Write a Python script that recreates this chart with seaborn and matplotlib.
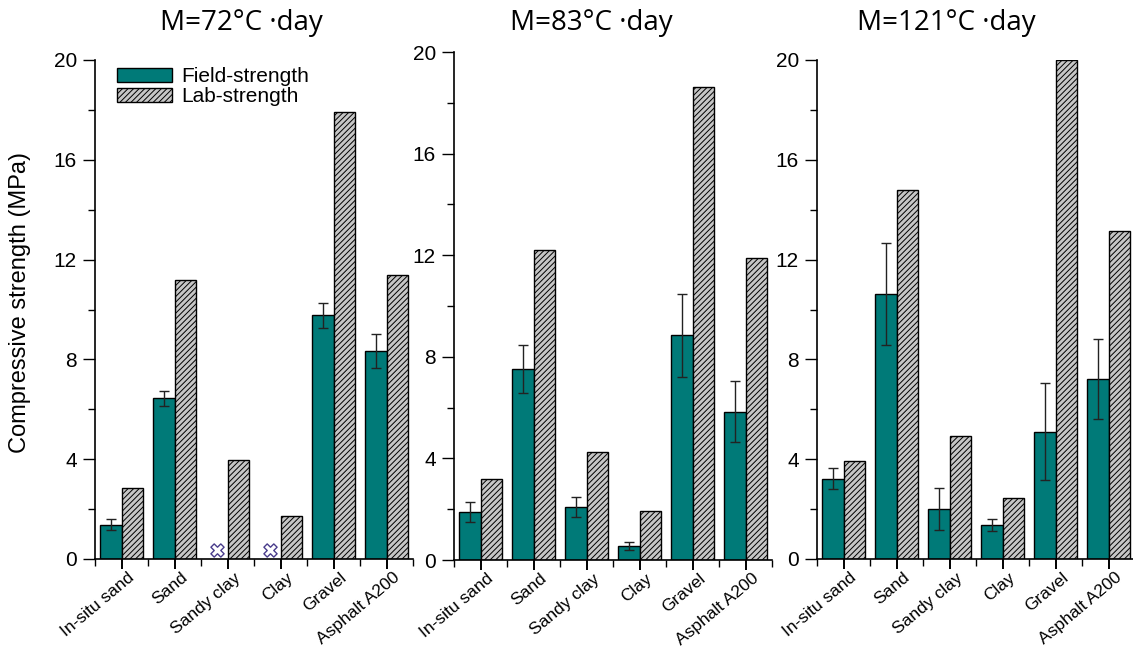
import numpy as np
import pandas as pd
import matplotlib
matplotlib.use("Agg")
import matplotlib.pyplot as plt
import matplotlib.transforms as mtransforms
import seaborn as sns
from matplotlib.patches import Patch
from matplotlib.ticker import MultipleLocator, FixedLocator

materials = ['In-situ sand', 'Sand', 'Sandy clay', 'Clay', 'Gravel', 'Asphalt A200']
titles = ['M=72°C ·day', 'M=83°C ·day', 'M=121°C ·day']
series_names = ['Field-strength', 'Lab-strength']

nan = np.nan
field_72 = [1.38, 6.44, nan, nan, 9.76, 8.34]
field_err_72 = [0.22, 0.31, nan, nan, 0.50, 0.67]
lab_72 = [2.86, 11.19, 3.96, 1.72, 17.90, 11.38]

field_83 = [1.88, 7.51, 2.08, 0.54, 8.84, 5.84]
field_err_83 = [0.40, 0.95, 0.40, 0.15, 1.65, 1.20]
lab_83 = [3.18, 12.19, 4.24, 1.93, 18.63, 11.90]

field_121 = [3.21, 10.61, 2.01, 1.37, 5.11, 7.21]
field_err_121 = [0.42, 2.05, 0.84, 0.25, 1.93, 1.60]
lab_121 = [3.93, 14.77, 4.93, 2.45, 20.00, 13.14]

missing_marker_level = 0.35  # "not measured" marker height

panels = [(field_72, field_err_72, lab_72),
          (field_83, field_err_83, lab_83),
          (field_121, field_err_121, lab_121)]

teal = '#007a78'
gray = '#c6c6c6'
BAR_W = 0.83

sns.set_theme(style='ticks')
plt.rcParams['font.family'] = ['Liberation Sans', 'DejaVu Sans']
plt.rcParams['hatch.linewidth'] = 0.7
plt.rcParams['hatch.color'] = '#333333'
for key in ['text.color', 'axes.labelcolor', 'xtick.color', 'ytick.color']:
    plt.rcParams[key] = 'black'

fig = plt.figure(figsize=(11.33, 6.5), dpi=100)
W, H = 1133, 650
# axes rectangles in pixels (left, top, right, bottom)
rects = [(95, 60, 413, 559), (454, 52, 772, 560), (817, 60, 1135, 559)]
title_x = [241, 591, 946]
label_shift = mtransforms.ScaledTranslation(0.06, 0.0, fig.dpi_scale_trans)

for k, ((field, ferr, lab), (l, t, r, b)) in enumerate(zip(panels, rects)):
    ax = fig.add_axes([l / W, 1 - b / H, (r - l) / W, (b - t) / H])
    df = pd.DataFrame({
        'material': materials * 2,
        'type': [series_names[0]] * len(materials) + [series_names[1]] * len(materials),
        'value': list(field) + list(lab),
    })
    sns.barplot(data=df, x='material', y='value', hue='type', order=materials,
                hue_order=series_names, palette=[teal, gray], width=BAR_W,
                edgecolor='black', linewidth=1.0, errorbar=None, legend=False,
                saturation=1, ax=ax)
    for p in ax.containers[1]:
        p.set_hatch('//////')
    # error bars on field bars
    xpos = np.arange(len(materials)) - BAR_W / 4
    fv = np.array(field, dtype=float)
    fe = np.array(ferr, dtype=float)
    ok = ~np.isnan(fv)
    ax.errorbar(xpos[ok], fv[ok], yerr=fe[ok], fmt='none', ecolor='#222222',
                elinewidth=1.0, capsize=3.5, capthick=1.0, zorder=5)
    if (~ok).any():
        ax.scatter(xpos[~ok], np.full((~ok).sum(), missing_marker_level), marker='X',
                   s=90, facecolor='white', edgecolor='#4a3d8c', linewidth=1.0,
                   zorder=6, clip_on=False)

    ax.set_xlim(-0.5, len(materials) - 0.5)
    ax.set_ylim(0, 20)
    ax.yaxis.set_major_locator(MultipleLocator(4))
    ax.yaxis.set_minor_locator(MultipleLocator(2))
    ax.xaxis.set_minor_locator(FixedLocator(np.arange(-0.5, len(materials), 1.0)))
    ax.tick_params(axis='y', which='major', direction='out', length=9, width=1,
                   labelsize=15, pad=4)
    ax.tick_params(axis='y', which='minor', direction='out', length=5, width=1)
    ax.tick_params(axis='x', which='major', direction='out', length=7, width=1.4,
                   labelsize=12.5, pad=1)
    ax.tick_params(axis='x', which='minor', direction='out', length=5, width=1)
    ax.set_xticks(range(len(materials)))
    ax.set_xticklabels(materials, rotation=40, ha='right', rotation_mode='anchor')
    for lbl in ax.get_xticklabels():
        lbl.set_transform(lbl.get_transform() + label_shift)
    for s in ['top', 'right']:
        ax.spines[s].set_visible(False)
    for s in ['left', 'bottom']:
        ax.spines[s].set_linewidth(1.2)
        ax.spines[s].set_color('black')
    ax.set_xlabel('')
    ax.set_ylabel('')
    fig.text(title_x[k] / W, 1 - 23 / H, titles[k], ha='center', va='center',
             fontsize=20, family=['Open Sans', 'DejaVu Sans'])
    if k == 0:
        ax.set_ylabel('Compressive strength (MPa)', fontsize=17,
                      family=['Liberation Sans Narrow', 'Liberation Sans', 'DejaVu Sans'])
        ax.yaxis.set_label_coords(-0.2, 0.515)
        handles = [Patch(facecolor=teal, edgecolor='black', linewidth=1.0),
                   Patch(facecolor=gray, edgecolor='black', linewidth=1.0, hatch='//////')]
        ax.legend(handles, series_names, loc='upper left', bbox_to_anchor=(0.024, 1.015),
                  frameon=False, fontsize=15, handlelength=2.65, handleheight=0.68,
                  handletextpad=0.4, labelspacing=0.05, borderpad=0.2)

fig.savefig('out.png', dpi=100)
